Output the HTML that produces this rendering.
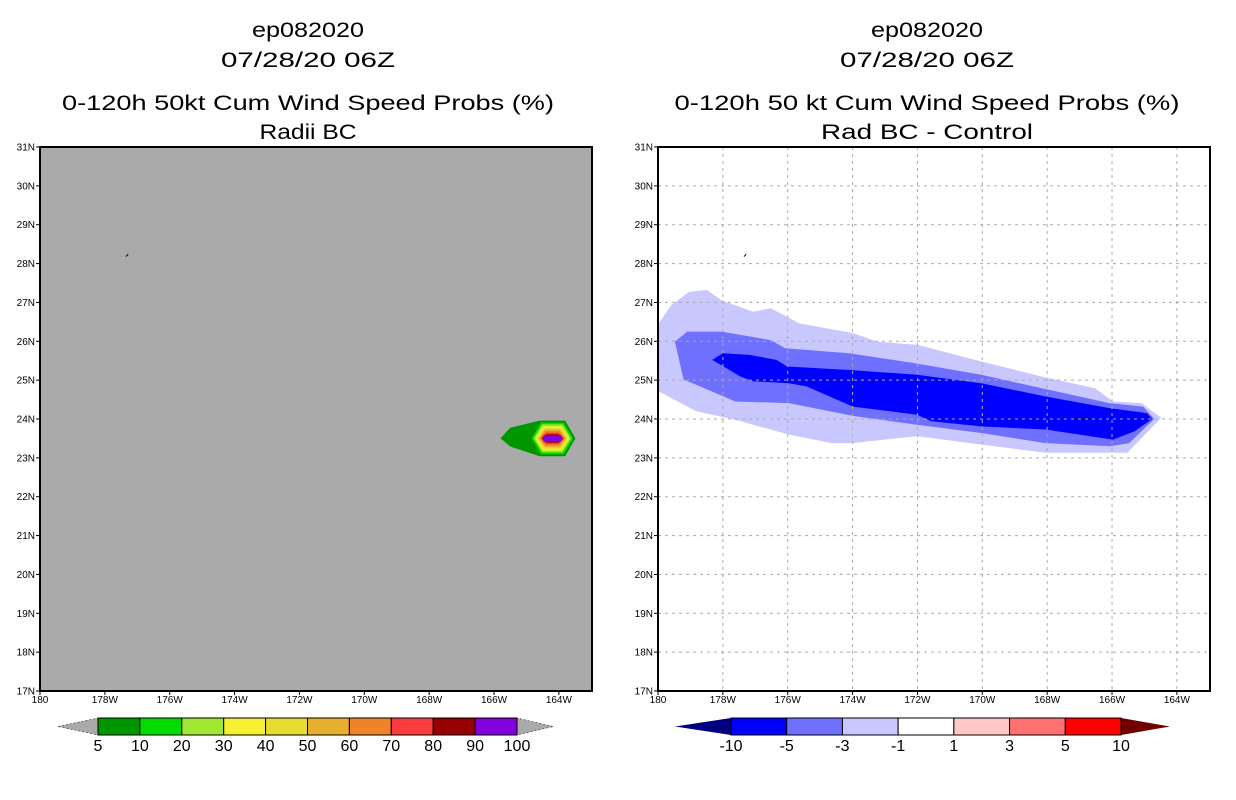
<!DOCTYPE html>
<html><head><meta charset="utf-8"><style>
html,body{margin:0;padding:0;background:#fff;}
svg{display:block;font-family:"Liberation Sans",sans-serif;}
</style></head><body>
<svg id="chart" width="1236" height="800" viewBox="0 0 1236 800">
<g id="titles">
<text x="308" y="37" font-size="21" text-anchor="middle" textLength="112" lengthAdjust="spacingAndGlyphs">ep082020</text>
<text x="308" y="67" font-size="21" text-anchor="middle" textLength="174" lengthAdjust="spacingAndGlyphs">07/28/20 06Z</text>
<text x="308" y="110" font-size="21" text-anchor="middle" textLength="492" lengthAdjust="spacingAndGlyphs">0-120h 50kt Cum Wind Speed Probs (%)</text>
<text x="308" y="139" font-size="21" text-anchor="middle" textLength="97" lengthAdjust="spacingAndGlyphs">Radii BC</text>
<text x="927" y="37" font-size="21" text-anchor="middle" textLength="112" lengthAdjust="spacingAndGlyphs">ep082020</text>
<text x="927" y="67" font-size="21" text-anchor="middle" textLength="174" lengthAdjust="spacingAndGlyphs">07/28/20 06Z</text>
<text x="927" y="110" font-size="21" text-anchor="middle" textLength="505" lengthAdjust="spacingAndGlyphs">0-120h 50 kt Cum Wind Speed Probs (%)</text>
<text x="927" y="139" font-size="21" text-anchor="middle" textLength="212" lengthAdjust="spacingAndGlyphs">Rad BC - Control</text>
</g>
</svg>
<script>
// ---- data ----
const latTicks = [31,30,29,28,27,26,25,24,23,22,21,20,19,18,17];
const lonTicks = [180,178,176,174,172,170,168,166,164];
const probColors = ["#009600","#00dc00","#a0e632","#f5f032","#e6dc32","#e6af2d","#f08228","#fa3c3c","#960000","#8200dc"];
const probLabels = ["5","10","20","30","40","50","60","70","80","90","100"];
const probCenter = [164.2, 23.5];
const probHalfW = [0.71,0.64,0.58,0.52,0.47,0.43,0.39,0.36,0.33,0.30];
const probHalfH = [0.46,0.41,0.36,0.31,0.27,0.23,0.19,0.15,0.11,0.08];
const probTail = [165.5, 23.5];
const diffBoxColors = ["#0000ff","#7070ff","#c8c8ff","#ffffff","#ffc8c8","#ff7070","#ff0000"];
const diffLowColor = "#000080";
const diffHighColor = "#700000";
const diffLabels = ["-10","-5","-3","-1","1","3","5","10"];
const diffLight = [[180,26.3],[179.98,26.46],[179.59,26.93],[179.04,27.27],[178.49,27.32],[178.05,27.06],[177.07,26.76],[176.52,26.85],[175.64,26.46],[173.99,26.21],[173.22,25.99],[172.01,25.91],[170.03,25.48],[168.16,25.09],[166.52,24.79],[165.97,24.45],[165.09,24.41],[164.48,24.03],[165.53,23.13],[168.05,23.13],[170.03,23.34],[172.01,23.56],[173.99,23.38],[174.65,23.38],[175.97,23.60],[177.62,23.98],[178.82,24.20],[179.98,24.71],[180,24.75]];
const diffMedium = [[179.48,25.99],[179.10,26.25],[178.05,26.25],[176.52,26.03],[176.08,25.82],[174.10,25.69],[172.12,25.44],[170.03,25.14],[168.16,24.79],[166.08,24.41],[165.04,24.32],[164.70,24.00],[165.47,23.38],[166.08,23.30],[168.05,23.38],[170.03,23.64],[172.01,23.85],[173.99,24.08],[175.97,24.41],[177.62,24.45],[178.82,24.88],[179.21,25.01]];
const diffDark = [[178.33,25.52],[178.00,25.69],[177.18,25.65],[176.35,25.52],[176.02,25.35],[174.10,25.26],[172.01,25.14],[170.03,24.92],[168.05,24.58],[166.08,24.28],[164.92,24.15],[164.76,24.00],[165.31,23.68],[165.97,23.47],[168.05,23.73],[170.03,23.81],[171.57,23.94],[172.01,24.11],[173.99,24.32],[175.42,24.84],[175.97,24.92],[177.07,24.97],[177.45,25.09]];
const diffDarkest = [[167.2,24.02],[166.9,24.05],[166.6,24.02],[166.9,23.98]];

const NS="http://www.w3.org/2000/svg";
const svg=document.getElementById('chart');
function el(tag,attrs,parent){const e=document.createElementNS(NS,tag);for(const k in attrs)e.setAttribute(k,attrs[k]);(parent||svg).appendChild(e);return e;}
const Y0=147,Y1=691,W=552;
function mkX(x0){return lon=>x0+(180-lon)*32.43;}
function yS(lat){return Y0+(31-lat)*(Y1-Y0)/14;}
function pts(arr,xS){return arr.map(p=>xS(p[0]).toFixed(1)+","+yS(p[1]).toFixed(1)).join(" ");}

function axes(x0,grid,prefix){
  const xS=mkX(x0);
  const g=el('g',{});
  
  
  latTicks.forEach(lat=>{
    const y=yS(lat);
    if(grid&&lat<31&&lat>17){const l=el('line',{x1:x0,x2:x0+W,y1:y,y2:y,stroke:'#aaa','stroke-dasharray':'3,4','stroke-width':1},g);
      }
    el('line',{x1:x0-4,x2:x0,y1:y,y2:y,stroke:'#000','stroke-width':1},g);
    const t=el('text',{x:x0-5,y:y+3.5,'font-size':10,'text-anchor':'end'},g);t.textContent=lat+'N';
    
  });
  lonTicks.forEach(lon=>{
    const x=xS(lon);
    if(grid&&lon<180){const l=el('line',{x1:x,x2:x,y1:Y0,y2:Y1,stroke:'#aaa','stroke-dasharray':'3,4','stroke-width':1},g);
      }
    el('line',{x1:x,x2:x,y1:Y1,y2:Y1+4,stroke:'#000','stroke-width':1},g);
    const t=el('text',{x:x,y:Y1+12,'font-size':10,'text-anchor':'middle'},g);t.textContent=lon==180?'180':lon+'W';
    
  });
  el('line',{x1:xS(177.35),y1:yS(28.18),x2:xS(177.28),y2:yS(28.24),stroke:'#000','stroke-width':1},g);
  const f=el('rect',{x:x0,y:Y0,width:W,height:Y1-Y0,fill:'none',stroke:'#000','stroke-width':2},g);
  
}

// ---- left panel ----
const xL=mkX(40);
const bgL=el('rect',{x:40,y:Y0,width:W,height:Y1-Y0,fill:'#aaaaaa'});

probHalfW.forEach((hw,i)=>{
  const hh=probHalfH[i],[cx,cy]=probCenter;
  let p=[[cx+hw,cy],[cx+hw*0.55,cy+hh],[cx-hw*0.55,cy+hh],[cx-hw,cy],[cx-hw*0.55,cy-hh],[cx+hw*0.55,cy-hh]];
  if(i===0)p=[[probTail[0]+0.3,cy],[probTail[0],cy+hh*0.6],[cx+hw*0.55,cy+hh],[cx-hw*0.55,cy+hh],[cx-hw,cy],[cx-hw*0.55,cy-hh],[cx+hw*0.55,cy-hh],[probTail[0],cy-hh*0.45]];
  if(i===9)p=[[cx+hw,cy],[cx+hw*0.9,cy+hh],[cx-hw*0.9,cy+hh],[cx-hw,cy],[cx-hw*0.9,cy-hh],[cx+hw*0.9,cy-hh]];
  const poly=el('polygon',{points:pts(p,xL),fill:probColors[i]});
  
  
});
axes(40,false,'left');

// ---- right panel ----
const xR=mkX(658);
[[diffLight,"#c8c8ff","-3"],[diffMedium,"#7070ff","-5"],[diffDark,"#0000ff","-10"],[diffDarkest,"#000080","lt-10"]].forEach(([arr,col,nm])=>{
  const poly=el('polygon',{points:pts(arr,xR),fill:col});
  
  
});
axes(658,true,'right');

// ---- colorbars ----
function colorbar(x0,x1,y,h,tipL,tipR,boxes,labels,triL,triR,name,dashed){
  const g=el('g',{});
  
  
  const n=boxes.length, bw=(x1-x0)/n;
  const sa=dashed?{stroke:'#555','stroke-dasharray':'2,2','stroke-width':0.8}:{};
  el('polygon',Object.assign({points:`${tipL},${y+h/2} ${x0},${y} ${x0},${y+h}`,fill:triL},sa),g);
  el('polygon',Object.assign({points:`${tipR},${y+h/2} ${x1},${y} ${x1},${y+h}`,fill:triR},sa),g);
  for(let i=0;i<n;i++){
    const r=el('rect',{x:x0+i*bw,y:y,width:bw,height:h,fill:boxes[i],stroke:'#000','stroke-width':1},g);
    
  }
  labels.forEach((l,i)=>{const t=el('text',{x:x0+i*bw,y:y+h+16,'font-size':16,'text-anchor':'middle'},g);t.textContent=l;
    });
}
colorbar(98,517,718,17,58,553,probColors,probLabels,'#aaaaaa','#aaaaaa','left-colorbar',true);
colorbar(731,1121,718,17,675,1170,diffBoxColors,diffLabels,diffLowColor,diffHighColor,'right-colorbar',false);
</script>
</body></html>
